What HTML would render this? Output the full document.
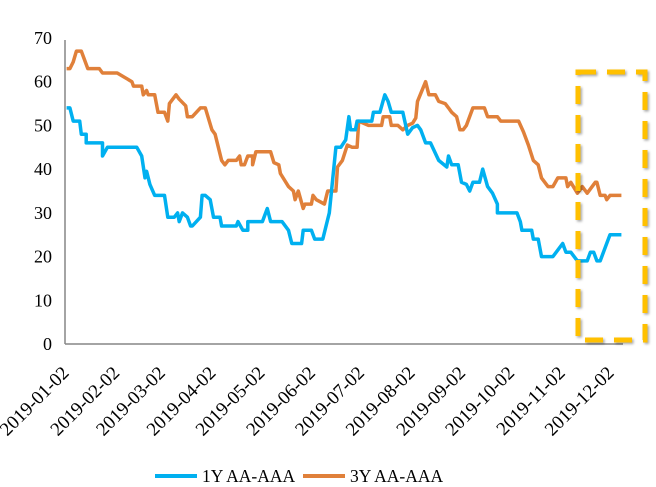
<!DOCTYPE html>
<html><head><meta charset="utf-8"><style>
body{margin:0;background:#fff}
svg{display:block;font-family:"Liberation Serif",serif}
</style></head><body>
<svg id="chart" width="656" height="487" viewBox="0 0 656 487"></svg>
<script>
const xTickDays=[0,31,59,90,120,151,181,212,243,273,304,334];
const xTickLabels=["2019-01-02","2019-02-02","2019-03-02","2019-04-02","2019-05-02","2019-06-02","2019-07-02","2019-08-02","2019-09-02","2019-10-02","2019-11-02","2019-12-02"];
const yTicks=[0,10,20,30,40,50,60,70];
const seriesNames=["1Y AA-AAA","3Y AA-AAA"];
const days1Y=[1,3,5,9,10,13,13,23,23,26,44,47,49,50,52,55,61,63,67,69,70,72,75,77,78,83,84,86,89,91,95,96,105,106,109,112,112,121,124,126,133,137,139,145,146,151,153,158,162,164,166,169,172,174,175,178,179,188,189,193,196,198,200,207,210,213,216,218,221,224,229,234,235,237,241,243,246,248,250,254,256,259,262,265,265,277,279,280,286,287,290,292,299,305,307,310,314,320,322,324,326,328,332,334,341];
const vals1Y=[54,54,51,51,48,48,46,46,43,45,45,43,38,39.5,36.5,34,34,29,29,30,28,30,29,27,27,29,34,34,33,29,29,27,27,28,26,26,28,28,31,28,28,26,23,23,26,26,24,24,30,37.5,45,45,46.7,52,49,49,51,51,53,53,57,55.5,53,53,48,49.5,50,49,46,46,42,40.5,43,41,41,37,36.5,35,37,37,40,36,34.5,32,30,30,28,26,26,24,24,20,20,23,21,21,19,19,21,21,19,19,23,25,25];
const days3Y=[1,3,5,7,10,14,21,23,32,41,42,47,48,50,51,55,57,61,63,64,68,70,74,75,78,83,86,90,92,96,98,100,105,107,108,110,112,115,115,117,126,128,131,132,137,140,141,143,146,147,151,152,154,159,161,166,167,170,173,176,179,180,186,194,195,199,200,204,207,210,213,215,216,221,223,227,229,233,235,237,240,242,244,246,250,257,259,265,267,278,281,284,287,290,292,296,299,302,307,308,310,314,317,320,325,326,328,331,332,334,341];
const vals3Y=[63,63,64.5,67,67,63,63,62,62,60,59,59,57,58,57,57,53,53,51,55,57,56,54.5,52,52,54,54,49,48,42,41,42,42,43,41,41,43,43,41,44,44,41.5,41,39,36,35,33,35,31,32,32,34,33,32,35,35,40.5,42,45.5,45,45,51,50,50,52,52,50,50,49,50,50.5,51.7,55.5,60,57,57,55.5,55,54,53,52,49,49,50,54,54,52,52,51,51,48.5,45.5,42,41,38,36,36,38,38,36,37,34.5,36,34.5,37,37,34,34,33,34,34];

const NS="http://www.w3.org/2000/svg";
const svg=document.getElementById('chart');
const X0=65,X1=610,Y0=344,Y70=38,DMAX=334;
const xs=d=>X0+d*(X1-X0)/DMAX;
const ys=v=>Y0-v*(Y0-Y70)/70;
function mk(t,a,p){const e=document.createElementNS(NS,t);for(const k in a)e.setAttribute(k,a[k]);(p||svg).appendChild(e);return e;}

const yAxis=mk('line',{x1:X0,y1:ys(70)+2,x2:X0,y2:Y0,stroke:'#868686','stroke-width':1.5});


const xAxis=mk('line',{x1:X0,y1:Y0,x2:623,y2:Y0,stroke:'#868686','stroke-width':1.5});



yTicks.forEach(v=>{
  const t=mk('text',{x:52,y:ys(v)+6,'text-anchor':'end','font-size':18,fill:'#000'});
  t.textContent=v;
  
  
});
xTickDays.forEach((d,i)=>{
  const x=xs(d)+5,y=374;
  const t=mk('text',{x:x,y:y,'text-anchor':'end','font-size':19,fill:'#000',transform:`rotate(-45 ${x} ${y})`});
  t.textContent=xTickLabels[i];
  
  
});

function line(days,vals,color,name){
  const pts=days.map((d,i)=>xs(d).toFixed(1)+','+ys(vals[i]).toFixed(1)).join(' ');
  const p=mk('polyline',{points:pts,fill:'none',stroke:color,'stroke-width':3.5,'stroke-linejoin':'round'});
  
  
}
line(days3Y,vals3Y,'#E0803A','series-3y-line');
line(days1Y,vals1Y,'#00B0F0','series-1y-line');

const defs=mk('defs',{});
const f=mk('filter',{id:'sh',x:'-10%',y:'-10%',width:'130%',height:'130%'},defs);
mk('feDropShadow',{dx:1.5,dy:1.5,stdDeviation:1.2,'flood-color':'#000','flood-opacity':0.35},f);
const box=mk('rect',{x:578,y:72,width:67,height:268,fill:'none',stroke:'#FFC000','stroke-width':5,'stroke-dasharray':'18 11',filter:'url(#sh)'});



const lg=mk('g',{});


const cols=['#00B0F0','#E0803A'],lx=[155,303];
seriesNames.forEach((n,i)=>{
  const l=mk('line',{x1:lx[i],y1:476,x2:lx[i]+42,y2:476,stroke:cols[i],'stroke-width':4},lg);
  
  
  const t=mk('text',{x:lx[i]+47,y:482,'font-size':17.5,fill:'#000'},lg);
  t.textContent=n;
  
  
});
</script>
</body></html>
